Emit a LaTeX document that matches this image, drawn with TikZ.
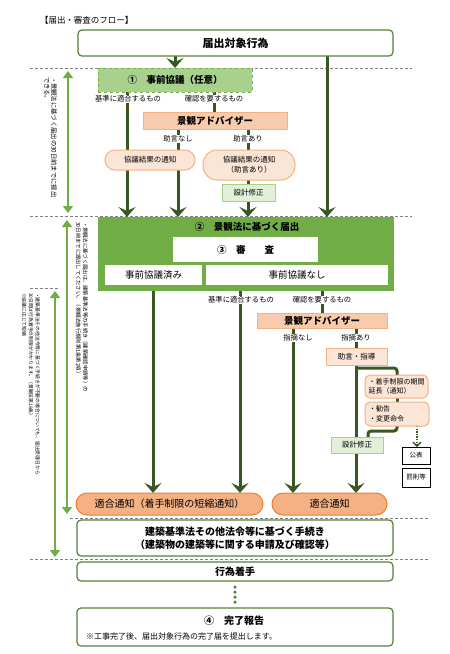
\documentclass[tikz,border=0pt]{standalone}
\usepackage{fontspec}
\setmainfont{Noto Sans CJK JP}
\usetikzlibrary{arrows.meta,shadows}
\definecolor{dg}{HTML}{385723}
\definecolor{dgb}{HTML}{548235}
\definecolor{lg}{HTML}{70AD47}
\definecolor{lgb}{HTML}{A9D18E}
\definecolor{lgc}{HTML}{E2F0D9}
\definecolor{sal}{HTML}{F8CBAD}
\definecolor{salb}{HTML}{FBE5D6}
\definecolor{org}{HTML}{F4B183}
\definecolor{orgd}{HTML}{ED7D31}
\definecolor{gline}{HTML}{7F7F7F}
\pgfdeclarelayer{bg}
\pgfsetlayers{bg,main}
\newcommand\fsz[2]{\fontsize{#1}{#2}\selectfont}
\tikzset{
  every node/.style={inner sep=0pt, outer sep=0pt},
  wbox/.style={draw=dgb, line width=1.2pt, fill=white, rounded corners=4pt},
  lbl/.style={fill=white, font=\fsz{7.3}{9}, inner xsep=1pt, inner ysep=1pt},
  advbox/.style={draw=org, line width=1pt, fill=sal, font=\fsz{9.5}{11}\bfseries},
  pill/.style={draw=org, line width=1pt, fill=salb, font=\fsz{7.5}{10}, align=center},
  gbox/.style={draw=lgb, line width=1pt, fill=lgc, font=\fsz{7.5}{9}},
  sbox/.style={draw=org, line width=1pt, fill=salb, font=\fsz{7.5}{9}},
  kbox/.style={draw=black, line width=0.8pt, fill=white, font=\fsz{6.5}{8},
    drop shadow={shadow xshift=1.2pt, shadow yshift=-1.2pt, fill=gray!70, opacity=1}},
  opill/.style={draw=orgd, line width=1pt, fill=org, rounded corners=11pt, font=\fsz{10}{12}},
  conn/.style={draw=dg, line width=3pt},
  arr/.style={conn, -{Stealth[length=10pt,width=17pt,inset=4pt]}},
  dline/.style={draw=gline, line width=0.8pt, dash pattern=on 3pt off 2pt},
  larr/.style={draw=lg, line width=2.5pt, {Triangle[length=7pt,width=10pt]}-{Triangle[length=7pt,width=10pt]}},
  dotarr/.style={draw=dg, line width=1.3pt, dash pattern=on 1.3pt off 1.3pt, -{Straight Barb[length=4pt,width=8pt]}},
  vtext/.style={rotate=-90, anchor=north west, align=left},
}
\begin{document}
\begin{tikzpicture}[x=1pt,y=-1pt]
\useasboundingbox (0,0) rectangle (450,654);
% x positions
\coordinate (x127) at (127,0);
\coordinate (x153) at (153,0);
\coordinate (x178) at (178,0);
\coordinate (x214) at (214,0);
\coordinate (x240) at (240,0);
\coordinate (x248) at (248,0);
\coordinate (x293) at (293,0);
\coordinate (x322) at (322,0);
\coordinate (x327) at (327,0);
\coordinate (x356) at (356,0);
\coordinate (x397) at (397,0);
\coordinate (x417) at (417,0);
\coordinate (sp1) at (356,368);
\coordinate (sp2) at (368,431);
% dashed line ends
\coordinate (d1a) at (30,68);  \coordinate (d1b) at (412,68);
\coordinate (d2a) at (30,216); \coordinate (d2b) at (412,216);
\coordinate (d3a) at (30,288); \coordinate (d3b) at (58,288);
\coordinate (d4a) at (70,518); \coordinate (d4b) at (430,518);
\coordinate (d5a) at (30,559); \coordinate (d5b) at (430,559);
% light arrow ends
\coordinate (a1t) at (68,71);  \coordinate (a1b) at (68,213);
\coordinate (a2t) at (67,220); \coordinate (a2b) at (67,514);
\coordinate (a3t) at (55,291); \coordinate (a3b) at (55,557);

% nodes
\node[anchor=west, font=\fsz{8.5}{10}] (title) at (40,20) {【届出・審査のフロー】};
\node[wbox, minimum width=315pt, minimum height=26pt, font=\fsz{11}{13}\bfseries] (top) at (235.5,43) {届出対象行為};
\node[draw=lg, dashed, line width=1pt, fill=lgb, minimum width=154pt, minimum height=24pt, font=\fsz{9.5}{11}\bfseries] (jizen) at (175,80) {①　事前協議（任意）};
\node[lbl] (l1) at (128,99) {基準に適合するもの};
\node[lbl] (l2) at (214,99) {確認を要するもの};
\node[advbox, minimum width=144pt, minimum height=17pt] (adv1) at (215,121) {景観アドバイザー};
\node[lbl] (l3) at (178,139) {助言なし};
\node[lbl] (l4) at (248,139) {助言あり};
\node[pill, minimum width=90pt, minimum height=20pt, rounded corners=10pt] (p1) at (150,160) {協議結果の通知};
\node[pill, minimum width=92pt, minimum height=30pt, rounded corners=14pt] (p2) at (249,165) {協議結果の通知\\（助言あり）};
\node[gbox, minimum width=53pt, minimum height=17pt] (s1) at (248.5,193) {設計修正};

\node[fill=lg, draw=lg, minimum width=295pt, minimum height=73pt] (todoke) at (245.5,253.5) {};
\node[font=\fsz{9.5}{11}\bfseries] (tt) at (247,227) {②　景観法に基づく届出};
\node[fill=white, minimum width=145pt, minimum height=25pt, font=\fsz{9.5}{11}\bfseries] (shinsa) at (245.5,249.5) {③　審　　査};
\node[fill=white, minimum width=97pt, minimum height=20pt, font=\fsz{9.5}{11}] (sumi) at (153.5,275) {事前協議済み};
\node[fill=white, minimum width=182pt, minimum height=20pt, font=\fsz{9.5}{11}] (nashi) at (297,275) {事前協議なし};

\node[lbl] (l5) at (241,300) {基準に適合するもの};
\node[lbl] (l6) at (322,300) {確認を要するもの};
\node[advbox, minimum width=130pt, minimum height=15pt] (adv2) at (322,320.5) {景観アドバイザー};
\node[lbl] (l7) at (298,338) {指摘なし};
\node[lbl] (l8) at (356,338) {指摘あり};
\node[sbox, minimum width=61pt, minimum height=17pt] (shido) at (356.5,356.5) {助言・指導};
\node[sbox, rounded corners=5pt, minimum width=63pt, minimum height=23pt, align=left, font=\fsz{7}{9}] (enchou) at (396.5,386.5) {・着手制限の期間\\延長（通知）};
\node[sbox, rounded corners=5pt, minimum width=64pt, minimum height=24pt, align=left, text width=56pt, font=\fsz{7}{10}] (kankoku) at (397,414) {・勧告\\・変更命令};
\node[gbox, minimum width=52pt, minimum height=16pt] (s2) at (357,445) {設計修正};
\node[kbox, minimum width=28pt, minimum height=17pt] (kohyo) at (416,455.5) {公表};
\node[kbox, minimum width=28pt, minimum height=19pt] (batsu) at (416,477.5) {罰則等};

\node[opill, minimum width=187pt, minimum height=22pt] (t1) at (169.5,504) {適合通知（着手制限の短縮通知）};
\node[opill, minimum width=115pt, minimum height=22pt] (t2) at (329.5,504) {適合通知};

\node[wbox, minimum width=316pt, minimum height=36pt, font=\fsz{10}{13}\bfseries, align=center] (kijun) at (235,538) {建築基準法その他法令等に基づく手続き\\（建築物の建築等に関する申請及び確認等）};
\node[wbox, minimum width=316pt, minimum height=19pt, font=\fsz{10}{12}\bfseries] (koui) at (235,571.5) {行為着手};
\node[wbox, minimum width=316pt, minimum height=38pt] (kanryo) at (235,627) {};
\node[font=\fsz{10}{12}\bfseries] (k4) at (234,621) {④　完了報告};
\node[anchor=west, font=\fsz{8}{10}] (knote) at (86,636) {※工事完了後、届出対象行為の完了届を提出します。};

% vertical notes
\node[vtext, font=\fsz{6.3}{7}] (v1) at (57,77) {・景観法に基づく届出の30日前までに提出\\できる。};
\node[vtext, font=\fsz{5.3}{7}] (v2) at (88,222) {・景観法に基づく届出は、建築基準法等の手続き（建築確認申請等）の\\30日前までに提出してください。（景観法施行規則第1条第2項）};
\node[vtext, font=\fsz{4.8}{6.8}] (v3) at (40,293) {・建築基準法その他法令等に基づく手続きが不要の場合についても、届出受理日から\\30日間は行為着手の制限がかかります。（景観法第18条）\\※協議に応じて短縮};

\begin{pgfonlayer}{bg}
\fill[white] (0,0) rectangle (450,654);
\draw[dline] (d1a) -- (d1b);
\draw[dline] (d2a) -- (d2b);
\draw[dline] (d3a) -- (d3b);
\draw[dline] (d4a) -- (d4b);
\draw[dline] (d5a) -- (d5b);
\draw[arr] (top.south -| jizen) -- (jizen.north);
\draw[arr] (top.south -| x327) -- (todoke.north -| x327);
\draw[arr] (jizen.south -| x127) -- (todoke.north -| x127);
\draw[conn] (jizen.south -| x214) -- (adv1.north -| x214);
\draw[arr] (adv1.south -| x178) -- (todoke.north -| x178);
\draw[arr] (adv1.south -| x248) -- (todoke.north -| x248);
\draw[arr] (todoke.south -| x153) -- (t1.north -| x153);
\draw[arr] (todoke.south -| x240) -- (t1.north -| x240);
\draw[conn] (todoke.south -| x322) -- (adv2.north -| x322);
\draw[arr] (adv2.south -| x293) -- (t2.north -| x293);
\draw[arr] (adv2.south -| x356) -- (t2.north -| x356);
\draw[conn, rounded corners=3pt] (sp1) -| (enchou.north -| x397);
\draw[conn] (enchou.south -| x397) -- (kankoku.north -| x397);
\draw[conn, rounded corners=3pt] (kankoku.south -| x397) |- (sp2) -- (s2.north -| sp2);
\draw[dotarr] (kankoku.south -| x417) -- (kohyo.north -| x417);
\draw[draw=dgb, line width=3.5pt, line cap=round, dash pattern=on 0pt off 5pt, shorten <=6pt, shorten >=6pt] (koui.south) -- (kanryo.north);
\draw[larr] (a1t) -- (a1b);
\draw[larr] (a2t) -- (a2b);
\draw[larr] (a3t) -- (a3b);
\end{pgfonlayer}
\end{tikzpicture}
\end{document}
